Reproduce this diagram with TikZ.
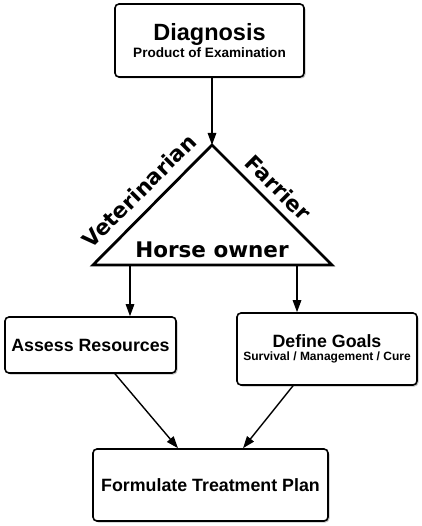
\documentclass[tikz,border=0pt]{standalone}
\usepackage{fontspec}
\setmainfont{Liberation Sans}
\newfontfamily\trifont{DejaVu Sans}
\usepackage{xcolor}
\usepackage{tikz}
\usetikzlibrary{arrows.meta, shadows}
\definecolor{shadowgrey}{HTML}{7A7A7A}

\begin{document}
\begin{tikzpicture}[
    x=1pt, y=-1pt,
    >={Triangle[length=12pt,width=8.5pt]},
    every node/.style={font=\bfseries},
    stepbox/.style={
      rectangle, rounded corners=4pt, draw=black, line width=1.6pt,
      fill=white, align=center, inner sep=0pt,
      drop shadow={shadow xshift=1.5pt, shadow yshift=-1.5pt,
        opacity=0.45, fill=shadowgrey}
    },
    bigtext/.style={font=\bfseries\fontsize{17.8}{21}\selectfont},
    smalltext/.style={font=\bfseries\fontsize{12}{14}\selectfont},
    rolelabel/.style={font=\trifont\bfseries\fontsize{21.5}{24}\selectfont,
      inner sep=0pt},
    triangle/.style={draw=black, line width=2.8pt, line join=miter},
    arrow/.style={->, line width=1.4pt, draw=black}
  ]
  \useasboundingbox (0,0) rectangle (421,526);

  % ===== diagnosis =====
  \node[stepbox, minimum width=189pt, minimum height=73pt] (diag) at (209.5,40.5)
    {{\fontsize{23.5}{26}\selectfont Diagnosis}\\[2pt]
     {\fontsize{13.6}{15}\selectfont Product of Examination}};

  % ===== the three parties =====
  \coordinate (apex) at (212,145);
  \coordinate (baseL) at (93,265);
  \coordinate (baseR) at (332,265);
  \draw[triangle] (apex) -- (baseR) -- (baseL) -- cycle;
  \draw[arrow] (diag.south -| apex) -- (apex);

  \node[rolelabel, rotate=45] (vet) at (139,191) {Veterinarian};
  \node[rolelabel, rotate=-45] (farrier) at (278.5,187.5) {Farrier};
  \node[rolelabel, anchor=base] (owner) at (212,257) {Horse owner};

  % ===== resources and goals =====
  \node[stepbox, bigtext, minimum width=171pt, minimum height=56pt] (assess)
    at (90.5,345) {Assess Resources};
  \node[stepbox, minimum width=180pt, minimum height=72pt] (goals) at (327,349)
    {{\fontsize{17.8}{21}\selectfont Define Goals}\\[1pt]
     {\fontsize{12}{14}\selectfont Survival / Management / Cure}};

  \coordinate (outL) at (130,265);
  \coordinate (outR) at (297,265);
  \draw[arrow] (outL) -- (outL |- assess.north);
  \draw[arrow] (outR) -- (outR |- goals.north);

  % ===== treatment plan =====
  \node[stepbox, bigtext, minimum width=235pt, minimum height=72pt] (plan)
    at (210.5,485) {Formulate Treatment Plan};

  \draw[arrow] ([xshift=24.5pt]assess.south) -- ([xshift=-32.5pt]plan.north);
  \draw[arrow] ([xshift=-34pt]goals.south) -- ([xshift=32.5pt]plan.north);

\end{tikzpicture}
\end{document}
